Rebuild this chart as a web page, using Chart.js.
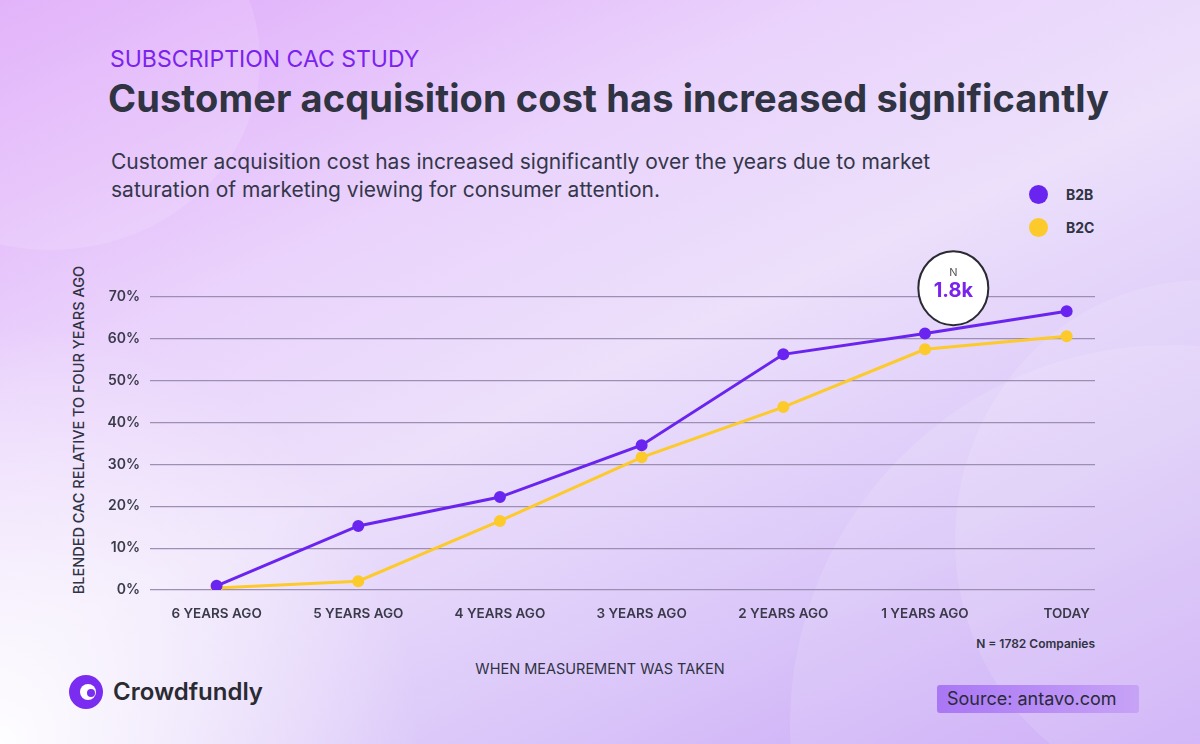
<!DOCTYPE html>
<html>
<head>
<meta charset="utf-8">
<script src="https://cdn.jsdelivr.net/npm/chart.js@4"></script>
<style>
  body { margin: 0; }
  #page {
    position: relative; width: 1200px; height: 744px; overflow: hidden;
    font-family: Inter, "Noto Sans", sans-serif; color: #2f3342;
    background:
      radial-gradient(circle at 0% 100%, rgba(255,255,255,0.95) 0, rgba(255,255,255,0) 420px),
      linear-gradient(155deg, #dfa9fa 0%, #ead3fc 30%, #ece0fb 50%, #dac6f9 75%, #c7a3f6 100%);
  }
  .circle { position: absolute; border-radius: 50%; background: rgba(255,255,255,0.12); }
  .t { position: absolute; white-space: nowrap; }
  #chart { position: absolute; left: 0; top: 0; }
  .dot { position: absolute; width: 19px; height: 19px; border-radius: 50%; }
</style>
</head>
<body>
<div id="page">
  <div class="circle" style="left:-160px;top:-130px;width:420px;height:380px;"></div>
  <div class="circle" style="left:790px;top:345px;width:760px;height:760px;"></div>
  <div class="circle" style="left:955px;top:280px;width:500px;height:520px;"></div>
  <div class="t" style="left:110px;top:45px;font-size:23px;color:#7a22ee;">SUBSCRIPTION CAC STUDY</div>
  <div class="t" style="left:108px;top:75px;font-size:38px;font-weight:700;letter-spacing:0.1px;">Customer acquisition cost has increased significantly</div>
  <div class="t" style="left:111px;top:148px;font-size:21px;line-height:28px;color:#34374a;">Customer acquisition cost has increased significantly over the years due to market<br>saturation of marketing viewing for consumer attention.</div>
  <div class="dot" style="left:1029px;top:185px;background:#6a24f0;"></div>
  <div class="t" style="left:1066px;top:186px;font-size:14px;font-weight:700;">B2B</div>
  <div class="dot" style="left:1029px;top:218px;background:#fcca2a;"></div>
  <div class="t" style="left:1066px;top:219px;font-size:14px;font-weight:700;">B2C</div>
  <div class="t" style="left:78px;top:430px;font-size:14.5px;font-weight:500;transform:translate(-50%,-50%) rotate(-90deg);">BLENDED CAC RELATIVE TO FOUR YEARS AGO</div>
  <div class="t" style="left:600px;top:660px;font-size:14.5px;transform:translateX(-50%);">WHEN MEASUREMENT WAS TAKEN</div>
  <div class="t" style="right:105px;top:636px;font-size:12px;font-weight:600;">N = 1782 Companies</div>
  <svg class="t" style="left:66px;top:672px;" width="40" height="40" viewBox="0 0 40 40">
    <circle cx="20" cy="20" r="17" fill="#7a2cf0"/>
    <circle cx="22" cy="20" r="8" fill="#fff"/>
    <circle cx="25" cy="21" r="4" fill="#7a2cf0"/>
  </svg>
  <div class="t" style="left:113px;top:677px;font-size:24px;font-weight:600;color:#2a2a33;">Crowdfundly</div>
  <div style="position:absolute;left:937px;top:685px;width:202px;height:28px;border-radius:3px;background:linear-gradient(90deg,#a976f5,#c7a3f6);"></div>
  <div class="t" style="left:947px;top:688px;font-size:18px;color:#2a2a3a;">Source: antavo.com</div>
  <canvas id="chart" width="1200" height="744"></canvas>
</div>
<script>
const categories = ['6 YEARS AGO', '5 YEARS AGO', '4 YEARS AGO', '3 YEARS AGO', '2 YEARS AGO', '1 YEARS AGO', 'TODAY'];
const b2b = [1, 15.3, 22.2, 34.6, 56.3, 61.3, 66.6];
const b2c = [0.5, 2.1, 16.5, 31.7, 43.7, 57.5, 60.6];
const yTicks = [0, 10, 20, 30, 40, 50, 60, 70];

const bubble = {
  id: 'bubble',
  afterDatasetsDraw(chart) {
    const ctx = chart.ctx;
    const x = chart.scales.x.getPixelForValue(5.2);
    const y = chart.scales.y.getPixelForValue(72.1);
    ctx.save();
    ctx.beginPath();
    ctx.ellipse(x, y, 35, 37, 0, 0, Math.PI * 2);
    ctx.fillStyle = '#ffffff';
    ctx.fill();
    ctx.lineWidth = 2;
    ctx.strokeStyle = '#2a2a33';
    ctx.stroke();
    ctx.textAlign = 'center';
    ctx.fillStyle = '#555';
    ctx.font = '11px Inter';
    ctx.fillText('N', x, y - 12);
    ctx.fillStyle = '#7a22ee';
    ctx.font = 'bold 20px Inter';
    ctx.fillText('1.8k', x, y + 9);
    ctx.restore();
  }
};

new Chart(document.getElementById('chart'), {
  type: 'line',
  data: {
    datasets: [
      { label: 'B2B', data: b2b.map((v, i) => ({ x: i, y: v })), borderColor: '#6a24f0', backgroundColor: '#6a24f0', borderWidth: 3, pointRadius: 4.5 },
      { label: 'B2C', data: b2c.map((v, i) => ({ x: i, y: v })), borderColor: '#fcca2a', backgroundColor: '#fcca2a', borderWidth: 3, pointRadius: 4.5 }
    ]
  },
  options: {
    responsive: false,
    animation: false,
    layout: { padding: { left: 90, right: 105, top: 297, bottom: 124 } },
    plugins: { legend: { display: false }, tooltip: { enabled: false } },
    scales: {
      x: {
        type: 'linear', min: -0.47, max: 6.2,
        afterBuildTicks: s => { s.ticks = categories.map((c, i) => ({ value: i })); },
        afterFit: s => { s.height = 30; },
        ticks: { callback: v => categories[v], color: '#3a3a4a', font: { size: 13.5, weight: '600', family: 'Inter' }, padding: 8, maxRotation: 0 },
        grid: { display: false },
        border: { display: false }
      },
      y: {
        min: 0, max: 70,
        afterBuildTicks: s => { s.ticks = yTicks.map(v => ({ value: v })); },
        afterFit: s => { s.width = 60; },
        ticks: { callback: v => v + '%', color: '#3a3a4a', font: { size: 14, weight: '600', family: 'Inter' }, padding: 10 },
        grid: { color: '#9c8fb3', lineWidth: 1.2, drawTicks: false },
        border: { display: false }
      }
    }
  },
  plugins: [bubble]
});
</script>
</body>
</html>
